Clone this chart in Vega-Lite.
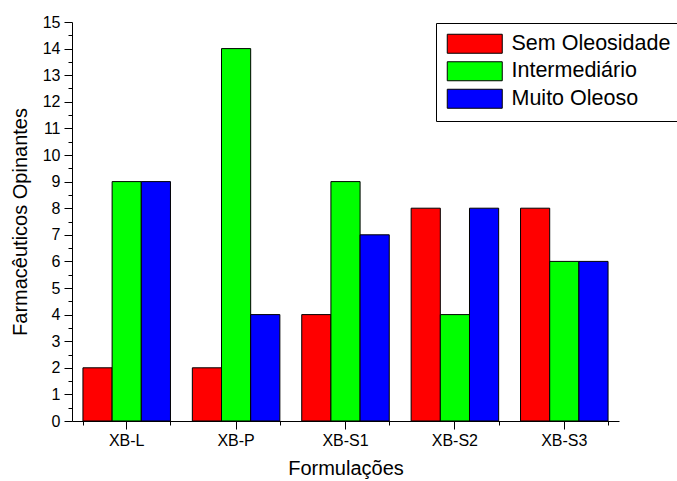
{
  "$schema": "https://vega.github.io/schema/vega-lite/v6.json",
  "width": 547,
  "height": 399,
  "autosize": {"type": "none"},
  "padding": {"left": 72, "top": 22, "right": 58, "bottom": 60},
  "background": "white",
  "config": {
    "view": {"stroke": null},
    "font": "Liberation Sans",
    "axis": {
      "domainColor": "black",
      "tickColor": "black",
      "labelColor": "black",
      "titleColor": "black",
      "grid": false,
      "labelFont": "Liberation Sans",
      "titleFont": "Liberation Sans",
      "titleFontWeight": "normal",
      "labelFontSize": 16,
      "titleFontSize": 20
    }
  },
  "data": {
    "values": [
      {"formulacao": "XB-L", "categoria": "Sem Oleosidade", "valor": 2},
      {"formulacao": "XB-L", "categoria": "Intermediário", "valor": 9},
      {"formulacao": "XB-L", "categoria": "Muito Oleoso", "valor": 9},
      {"formulacao": "XB-P", "categoria": "Sem Oleosidade", "valor": 2},
      {"formulacao": "XB-P", "categoria": "Intermediário", "valor": 14},
      {"formulacao": "XB-P", "categoria": "Muito Oleoso", "valor": 4},
      {"formulacao": "XB-S1", "categoria": "Sem Oleosidade", "valor": 4},
      {"formulacao": "XB-S1", "categoria": "Intermediário", "valor": 9},
      {"formulacao": "XB-S1", "categoria": "Muito Oleoso", "valor": 7},
      {"formulacao": "XB-S2", "categoria": "Sem Oleosidade", "valor": 8},
      {"formulacao": "XB-S2", "categoria": "Intermediário", "valor": 4},
      {"formulacao": "XB-S2", "categoria": "Muito Oleoso", "valor": 8},
      {"formulacao": "XB-S3", "categoria": "Sem Oleosidade", "valor": 8},
      {"formulacao": "XB-S3", "categoria": "Intermediário", "valor": 6},
      {"formulacao": "XB-S3", "categoria": "Muito Oleoso", "valor": 6}
    ]
  },
  "encoding": {
    "y": {
      "field": "valor",
      "type": "quantitative",
      "scale": {"domain": [0, 15], "nice": false},
      "axis": {
        "title": "Farmacêuticos Opinantes",
        "values": [0, 0.5, 1, 1.5, 2, 2.5, 3, 3.5, 4, 4.5, 5, 5.5, 6, 6.5, 7, 7.5, 8, 8.5, 9, 9.5, 10, 10.5, 11, 11.5, 12, 12.5, 13, 13.5, 14, 14.5, 15],
        "tickSize": {"condition": {"test": "datum.value % 1 !== 0", "value": 4}, "value": 8},
        "labelExpr": "datum.value % 1 ? '' : '' + datum.value",
        "labelOverlap": false,
        "labelPadding": 4,
        "titlePadding": 12
      }
    }
  },
  "layer": [
    {
      "mark": {"type": "bar", "stroke": "black", "strokeWidth": 1},
      "encoding": {
        "x": {
          "field": "formulacao",
          "type": "nominal",
          "sort": ["XB-L", "XB-P", "XB-S1", "XB-S2", "XB-S3"],
          "scale": {"paddingInner": 0.2, "paddingOuter": 0.1},
          "axis": {
            "orient": "bottom",
            "title": "Formulações",
            "labelAngle": 0,
            "tickSize": 8,
            "labelPadding": 3,
            "titlePadding": 10
          }
        },
        "xOffset": {
          "field": "categoria",
          "type": "nominal",
          "sort": ["Sem Oleosidade", "Intermediário", "Muito Oleoso"],
          "scale": {"paddingInner": 0, "paddingOuter": 0}
        },
        "color": {
          "field": "categoria",
          "type": "nominal",
          "scale": {
            "domain": ["Sem Oleosidade", "Intermediário", "Muito Oleoso"],
            "range": ["#FF0000", "#00FF00", "#0000FF"]
          },
          "legend": {
            "title": null,
            "orient": "none",
            "legendX": 364,
            "legendY": 1,
            "strokeColor": "black",
            "fillColor": "white",
            "padding": 10,
            "symbolType": "M-1,-1H4.79V1H-1Z",
            "symbolSize": 361,
            "symbolStrokeColor": "black",
            "symbolStrokeWidth": 1,
            "labelFontSize": 21.5,
            "labelFont": "Liberation Sans",
            "labelColor": "black",
            "labelOffset": 44,
            "rowPadding": 3.5
          }
        }
      }
    },
    {
      "mark": {"type": "bar", "opacity": 0},
      "encoding": {
        "x": {
          "field": "formulacao",
          "type": "nominal",
          "sort": ["XB-L", "XB-P", "XB-S1", "XB-S2", "XB-S3"],
          "axis": {
            "orient": "bottom",
            "tickBand": "extent",
            "tickSize": 4,
            "labels": false,
            "domain": false,
            "title": null
          }
        }
      }
    }
  ],
  "resolve": {"axis": {"x": "independent"}}
}
